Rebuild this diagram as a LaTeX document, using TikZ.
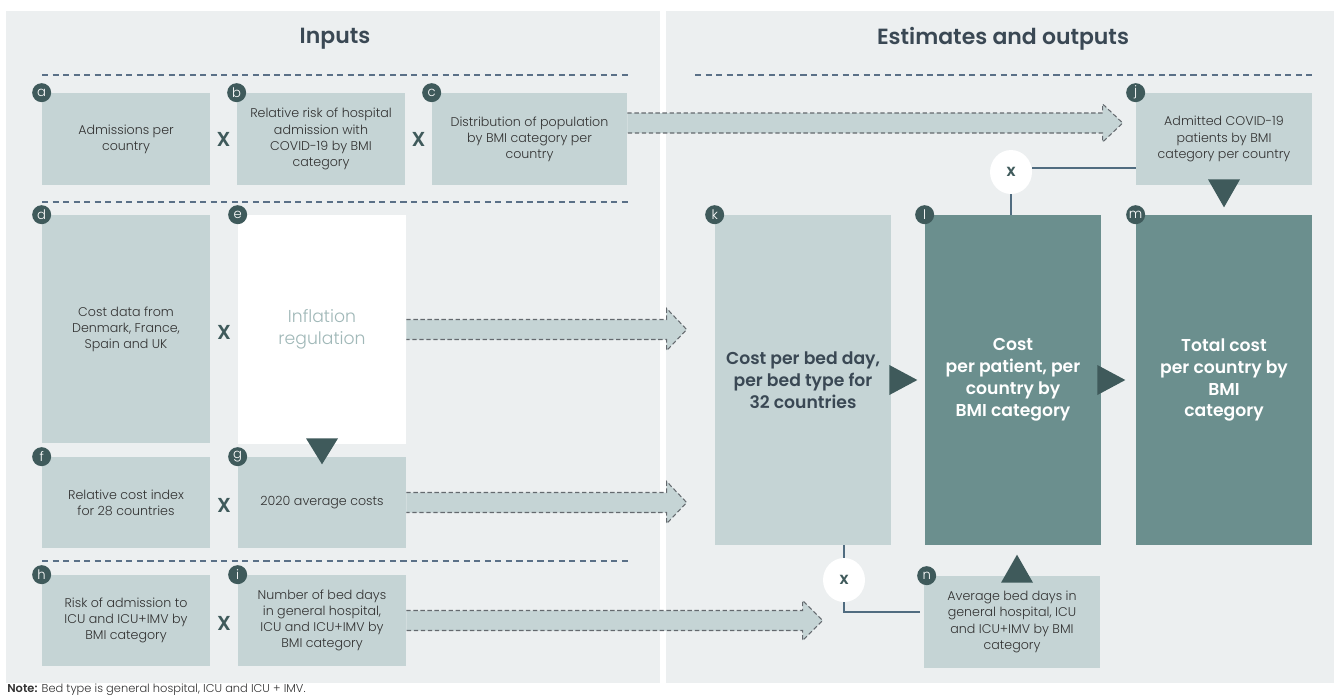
\documentclass[tikz,border=0pt]{standalone}
\usepackage{fontspec}
\IfFontExistsTF{Poppins Light}
  {\IfFontExistsTF{Poppins SemiBold}
     {\setmainfont{Poppins Light}[BoldFont={Poppins SemiBold}]}
     {\setmainfont{Poppins Light}[BoldFont={Poppins}]}}
  {\setmainfont{Poppins}}
\usepackage{tikz}
\usetikzlibrary{positioning, calc, shapes.geometric}
\definecolor{panelgray}{RGB}{236,239,240}
\definecolor{boxlight}{RGB}{197,212,213}
\definecolor{boxdark}{RGB}{107,143,142}
\definecolor{tagdark}{RGB}{63,90,91}
\definecolor{boxtext}{RGB}{50,50,50}
\definecolor{titlecol}{RGB}{58,72,84}
\definecolor{linkblue}{RGB}{80,108,128}
\definecolor{sepblue}{RGB}{90,112,135}
\definecolor{dashgray}{RGB}{100,105,110}
\definecolor{inflcol}{RGB}{160,184,184}

\begin{document}
\begin{tikzpicture}[x=0.02cm, y=-0.02cm,
    panel/.style={fill=panelgray},
    title/.style={text=titlecol, font=\fontsize{12.5}{14}\selectfont\bfseries},
    lbox/.style={rectangle, fill=boxlight, text=boxtext, align=center, inner sep=2pt, font=\fontsize{7.2}{9.2}\selectfont},
    dbox/.style={rectangle, fill=boxdark, text=white, align=center, inner sep=2pt, font=\fontsize{9.8}{12.5}\selectfont\bfseries},
    tag/.style={circle, fill=tagdark, text=white, inner sep=0pt, minimum size=0.38cm, font=\fontsize{7.5}{7.5}\selectfont},
    times/.style={text=tagdark, font=\fontsize{11.5}{11.5}\selectfont\bfseries},
    xcirc/.style={ellipse, fill=white, minimum width=0.84cm, minimum height=0.88cm, inner sep=0pt, text=tagdark, font=\fontsize{9.5}{9.5}\selectfont\bfseries},
    link/.style={draw=linkblue, line width=0.8pt},
    sep/.style={draw=sepblue, line width=0.7pt, dash pattern=on 3.5pt off 2.5pt},
    band/.style={fill=boxlight},
    banddash/.style={draw=dashgray, line width=0.6pt, dash pattern=on 2.5pt off 1.5pt},
    tri/.style={fill=tagdark}
]
    \useasboundingbox (0,0) rectangle (1339,698);

    % === PANELS ===
    \fill[panel] (6,11) rectangle (660,683);
    \fill[panel] (666,11) rectangle (1334,683);
    \node[title] (tin) at (335,39) {Inputs};
    \node[title] (tout) at (1003,39) {Estimates and outputs};

    % separators
    \draw[sep] (42,75) -- (628,75);
    \draw[sep] (695,75) -- (1312,75);
    \draw[sep] (42,202) -- (628,202);
    \draw[sep] (42,561) -- (628,561);

    % === INPUTS : ROW 1 ===
    \node[lbox, minimum width=3.36cm, minimum height=1.84cm] (a) at (126,139) {Admissions per\\country};
    \node[lbox, minimum width=3.36cm, minimum height=1.84cm] (b) at (321,139) {Relative risk of hospital\\admission with\\COVID-19 by BMI\\category};
    \node[lbox, minimum width=3.9cm, minimum height=1.84cm] (c) at (529.5,139) {Distribution of population\\by BMI category per\\country};
    \node[times] (xab) at ($(a.east)!0.5!(b.west)$) {X};
    \node[times] (xbc) at ($(b.east)!0.5!(c.west)$) {X};

    % === INPUTS : ROW 2 ===
    \node[lbox, minimum width=3.36cm, minimum height=4.56cm] (d) at (126,329) {Cost data from\\Denmark, France,\\Spain and UK};
    \node[lbox, fill=white, text=inflcol, font=\fontsize{9.8}{12.5}\selectfont, minimum width=3.36cm, minimum height=4.58cm] (e) at (322,329.5) {Inflation\\regulation};
    \node[times] (xde) at ($(d.east)!0.5!(e.west)+(0,3)$) {X};

    \node[lbox, minimum width=3.36cm, minimum height=1.82cm] (f) at (126,502.5) {Relative cost index\\for 28 countries};
    \node[lbox, minimum width=3.36cm, minimum height=1.82cm] (g) at (322,502.5) {2020 average costs};
    \node[times] (xfg) at ($(f.east)!0.5!(g.west)+(0,3)$) {X};

    % === INPUTS : ROW 3 ===
    \node[lbox, minimum width=3.36cm, minimum height=1.82cm] (h) at (126,620.5) {Risk of admission to\\ICU and ICU+IMV by\\BMI category};
    \node[lbox, minimum width=3.36cm, minimum height=1.82cm] (i) at (322,620.5) {Number of bed days\\in general hospital,\\ICU and ICU+IMV by\\BMI category};
    \node[times] (xhi) at ($(h.east)!0.5!(i.west)+(0,3)$) {X};

    % === ESTIMATES AND OUTPUTS ===
    \node[lbox, minimum width=3.52cm, minimum height=1.84cm] (j) at (1224,139) {Admitted COVID-19\\patients by BMI\\category per country};
    \node[lbox, text=titlecol, font=\fontsize{9.8}{12.5}\selectfont\bfseries, minimum width=3.52cm, minimum height=6.6cm] (k) at (803,380) {Cost per bed day,\\per bed type for\\32 countries};
    \node[dbox, minimum width=3.52cm, minimum height=6.6cm] (l) at (1013,380) {Cost\\per patient, per\\country by\\BMI category};
    \node[dbox, minimum width=3.52cm, minimum height=6.6cm] (m) at (1224,380) {Total cost\\per country by\\BMI\\category};
    \node[lbox, minimum width=3.52cm, minimum height=1.84cm] (n) at (1012,622) {Average bed days in\\general hospital, ICU\\and ICU+IMV by BMI\\category};

    % multiplication circles
    \node[xcirc] (xu) at (1011,172) {x};
    \node[xcirc] (xl) at (844,580) {x};
    \draw[link] ($(xu.east)+(0,-4)$) -- ($(xu.east -| j.west)+(0,-4)$);
    \draw[link] (xu.south) -- (xu.south |- l.north);
    \draw[link] (xl.north |- k.south) -- (xl.north);
    \draw[link] (xl.south) |- ($(n.west)+(-4,-10)$);

    % letter tags
    \node[tag] (ta) at (a.north west) {a};
    \node[tag] (tb) at (b.north west) {b};
    \node[tag] (tc) at (c.north west) {c};
    \node[tag] (td) at (d.north west) {d};
    \node[tag] (te) at (e.north west) {e};
    \node[tag] (tf) at (f.north west) {f};
    \node[tag] (tg) at (g.north west) {g};
    \node[tag] (th) at (h.north west) {h};
    \node[tag] (ti) at (i.north west) {i};
    \node[tag] (tj) at (j.north west) {j};
    \node[tag] (tk) at (k.north west) {k};
    \node[tag] (tl) at (l.north west) {l};
    \node[tag] (tm) at (m.north west) {m};
    \node[tag] (tn) at ($(n.north west)+(3,0)$) {n};

    % === TRIANGLES ===
    \fill[tri] ($(e.south)+(-16,-6)$) -- ($(e.south)+(16,-6)$) -- ($(e.south)+(0,20)$) -- cycle;
    \fill[tri] ($(k.east)+(-2,-15)$) -- ($(k.east)+(-2,15)$) -- ($(k.east)+(26,0)$) -- cycle;
    \fill[tri] ($(l.east)+(-4,-15)$) -- ($(l.east)+(-4,15)$) -- ($(l.east)+(24,0)$) -- cycle;
    \fill[tri] ($(j.south)+(-16,-6)$) -- ($(j.south)+(16,-6)$) -- ($(j.south)+(0,22)$) -- cycle;
    \fill[tri] ($(n.north)+(-11,7)$) -- ($(n.north)+(21,7)$) -- ($(n.north)+(5,-21)$) -- cycle;

    % === DASHED BAND ARROWS ===
    \coordinate (cout) at ($(c.east)+(0,-16)$);
    \coordinate (tipc) at ($(j.west |- cout)+(-13,0)$);
    \coordinate (tipe) at ($(k.west |- e.east)+(-28,0)$);
    \coordinate (tipg) at ($(k.west |- g.east)+(-28,0)$);
    \coordinate (tipi) at (xl.west |- i.east);

    % c -> j
    \fill[band] ($(cout)+(0,-10)$) -- ($(tipc)+(-20,-10)$) -- ($(tipc)+(-20,-19)$) -- (tipc) -- ($(tipc)+(-20,19)$) -- ($(tipc)+(-20,10)$) -- ($(cout)+(0,10)$) -- cycle;
    \draw[banddash] ($(cout)+(0,-10)$) -- ($(tipc)+(-20,-10)$) -- ($(tipc)+(-20,-19)$) -- (tipc) -- ($(tipc)+(-20,19)$) -- ($(tipc)+(-20,10)$) -- ($(cout)+(0,10)$);
    % e -> k
    \fill[band] ($(e.east)+(0,-10)$) -- ($(tipe)+(-20,-10)$) -- ($(tipe)+(-20,-21)$) -- (tipe) -- ($(tipe)+(-20,21)$) -- ($(tipe)+(-20,10)$) -- ($(e.east)+(0,10)$) -- cycle;
    \draw[banddash] ($(e.east)+(0,-10)$) -- ($(tipe)+(-20,-10)$) -- ($(tipe)+(-20,-21)$) -- (tipe) -- ($(tipe)+(-20,21)$) -- ($(tipe)+(-20,10)$) -- ($(e.east)+(0,10)$);
    % g -> k
    \fill[band] ($(g.east)+(0,-10)$) -- ($(tipg)+(-20,-10)$) -- ($(tipg)+(-20,-21)$) -- (tipg) -- ($(tipg)+(-20,21)$) -- ($(tipg)+(-20,10)$) -- ($(g.east)+(0,10)$) -- cycle;
    \draw[banddash] ($(g.east)+(0,-10)$) -- ($(tipg)+(-20,-10)$) -- ($(tipg)+(-20,-21)$) -- (tipg) -- ($(tipg)+(-20,21)$) -- ($(tipg)+(-20,10)$) -- ($(g.east)+(0,10)$);
    % i -> x
    \fill[band] ($(i.east)+(0,-10)$) -- ($(tipi)+(-20,-10)$) -- ($(tipi)+(-20,-20)$) -- (tipi) -- ($(tipi)+(-20,20)$) -- ($(tipi)+(-20,10)$) -- ($(i.east)+(0,10)$) -- cycle;
    \draw[banddash] ($(i.east)+(0,-10)$) -- ($(tipi)+(-20,-10)$) -- ($(tipi)+(-20,-20)$) -- (tipi) -- ($(tipi)+(-20,20)$) -- ($(tipi)+(-20,10)$) -- ($(i.east)+(0,10)$);

    % === NOTE ===
    \node[anchor=west, inner sep=0pt, text=boxtext, font=\fontsize{6.5}{7.5}\selectfont] (note) at (7,690) {\textbf{Note:} Bed type is general hospital, ICU and ICU + IMV.};
\end{tikzpicture}
\end{document}
